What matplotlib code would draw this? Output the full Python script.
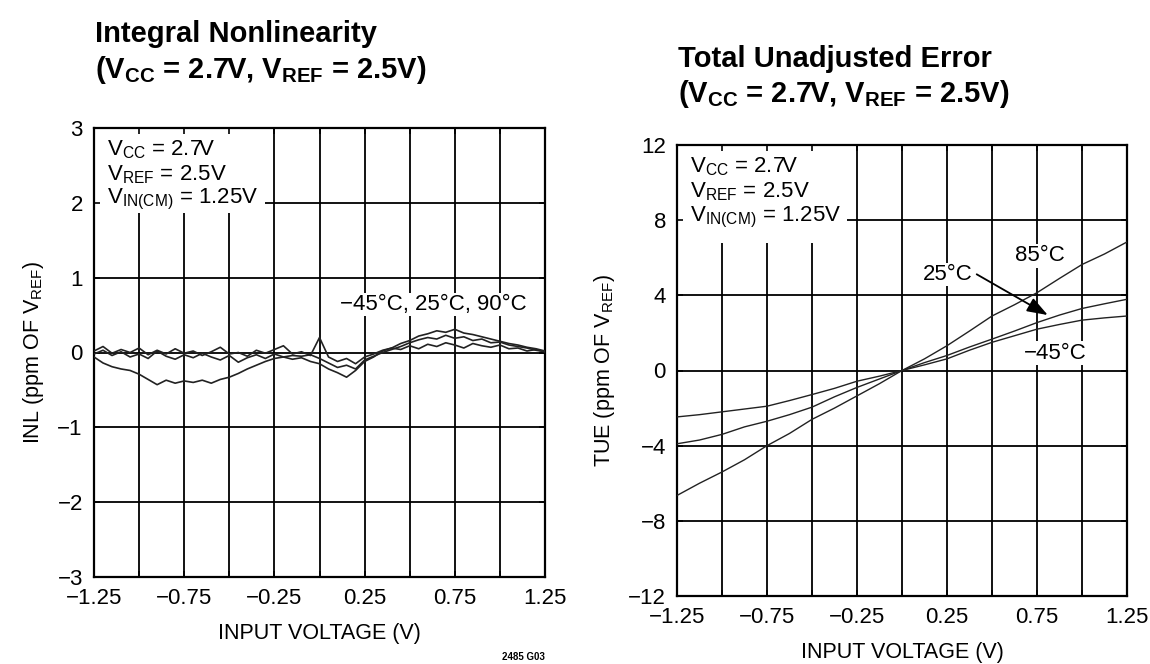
import numpy as np
import matplotlib
matplotlib.use("Agg")
import matplotlib.pyplot as plt
from matplotlib.patches import Rectangle

plt.rcParams["font.family"] = ["Liberation Sans", "DejaVu Sans"]
plt.rcParams["mathtext.default"] = "regular"

# ---- data ----
# INL, three temperatures, 0.05 V steps
vin_inl = np.linspace(-1.25, 1.25, 51)
inl_a = [-0.06, -0.14, -0.19, -0.22, -0.24, -0.29, -0.36, -0.43, -0.37, -0.41,
         -0.38, -0.40, -0.37, -0.41, -0.36, -0.33, -0.28, -0.22, -0.17, -0.12,
         -0.08, -0.06, -0.09, -0.07, -0.12, -0.15, -0.22, -0.27, -0.33, -0.24,
         -0.12, -0.06, 0.02, 0.06, 0.12, 0.16, 0.22, 0.25, 0.29, 0.27,
         0.31, 0.26, 0.24, 0.21, 0.18, 0.15, 0.12, 0.10, 0.07, 0.05, 0.02]
inl_b = [-0.02, 0.03, -0.04, 0.01, -0.06, -0.02, -0.08, 0.02, -0.05, -0.09,
         -0.03, -0.07, -0.01, -0.06, -0.10, -0.04, -0.13, -0.07, -0.03, -0.08,
         -0.02, -0.06, -0.04, -0.05, -0.03, -0.08, -0.14, -0.20, -0.17, -0.22,
         -0.10, -0.05, 0.00, 0.04, 0.08, 0.13, 0.17, 0.20, 0.18, 0.23,
         0.19, 0.21, 0.16, 0.18, 0.13, 0.14, 0.10, 0.08, 0.06, 0.03, 0.01]
inl_c = [0.02, 0.08, -0.01, 0.04, 0.00, 0.06, -0.03, 0.03, -0.02, 0.05,
         -0.01, 0.02, -0.04, 0.01, 0.07, -0.02, 0.00, -0.05, 0.03, -0.01,
         0.04, 0.09, -0.02, 0.01, -0.04, 0.20, -0.06, -0.12, -0.08, -0.15,
         -0.06, -0.02, 0.03, 0.06, 0.04, 0.09, 0.05, 0.11, 0.08, 0.13,
         0.10, 0.06, 0.12, 0.09, 0.07, 0.10, 0.05, 0.06, 0.02, 0.04, 0.01]

# TUE, 0.125 V steps
vin_tue = np.linspace(-1.25, 1.25, 21)
tue_85 = [-6.65, -6.0, -5.4, -4.75, -4.0, -3.35, -2.6, -2.0, -1.35, -0.7, 0.0,
          0.62, 1.32, 2.1, 2.9, 3.5, 4.14, 4.9, 5.64, 6.2, 6.84]
tue_25 = [-3.9, -3.7, -3.4, -3.0, -2.7, -2.35, -1.95, -1.4, -0.9, -0.45, 0.0,
          0.42, 0.8, 1.25, 1.67, 2.1, 2.55, 2.95, 3.3, 3.55, 3.79]
tue_m45 = [-2.47, -2.35, -2.2, -2.05, -1.9, -1.6, -1.28, -0.95, -0.57, -0.3, 0.0,
           0.3, 0.62, 1.08, 1.5, 1.85, 2.2, 2.45, 2.68, 2.8, 2.9]

xticks = [-1.25, -0.75, -0.25, 0.25, 0.75, 1.25]
xtick_labels = ["\u22121.25", "\u22120.75", "\u22120.25", "0.25", "0.75", "1.25"]
inl_yticks = [-3, -2, -1, 0, 1, 2, 3]
tue_yticks = [-12, -8, -4, 0, 4, 8, 12]

W, H = 1150, 664
fig = plt.figure(figsize=(W / 100, H / 100), dpi=100)


def px(x0, y0, x1, y1):
    return [x0 / W, 1 - y1 / H, (x1 - x0) / W, (y1 - y0) / H]


def setup(ax, yticks, ystep, ylabel, box_w, box_h, lines):
    ax.set_xlim(-1.25, 1.25)
    ax.set_ylim(yticks[0], yticks[-1])
    # grid drawn by hand so the text box can sit over it
    ax.vlines(np.arange(-1.0, 1.25, 0.25), yticks[0], yticks[-1], color="black", lw=1.3, zorder=1)
    ax.hlines(np.arange(yticks[0] + ystep, yticks[-1], ystep), -1.25, 1.25, color="black", lw=1.3, zorder=1)
    ax.set_axisbelow(False)
    ax.set_xticks(xticks)
    ax.set_xticklabels(xtick_labels)
    ax.set_xticks(np.arange(-1.0, 1.25, 0.5), minor=True)
    ax.set_yticks(yticks)
    ax.set_yticklabels([str(t).replace("-", "\u2212") for t in yticks])
    ax.tick_params(which="both", direction="in", top=True, right=True, length=4, width=1.2,
                   labelsize=16, pad=8)
    for s in ax.spines.values():
        s.set_linewidth(1.6)
    ax.set_xlabel("INPUT VOLTAGE (V)", fontsize=15.5, labelpad=10)
    ax.set_ylabel(ylabel, fontsize=15.5, labelpad=8)
    ax.add_patch(Rectangle((0, 1 - box_h), box_w, box_h, transform=ax.transAxes,
                           facecolor="white", edgecolor="none", zorder=2))
    for yy, s in zip([0.951, 0.896, 0.840], lines):
        ax.text(0.029, yy, s, transform=ax.transAxes, fontsize=16, va="center", zorder=4)


box_lines = ["V$_{CC}$ = 2.7V", "V$_{REF}$ = 2.5V", "V$_{IN(CM)}$ = 1.25V"]

# ---- left: INL ----
ax1 = fig.add_axes(px(94, 128, 545, 577))
setup(ax1, inl_yticks, 1, "INL (ppm OF V$_{REF}$)", 0.38, 0.19, box_lines)
for tr in (inl_a, inl_b, inl_c):
    ax1.plot(vin_inl, tr, color="#222222", lw=1.2, zorder=3)
ax1.text(0.114, 0.64, "\u221245\u00b0C, 25\u00b0C, 90\u00b0C", fontsize=16, va="center", zorder=2,
         bbox=dict(facecolor="white", edgecolor="none", pad=1))

# ---- right: TUE ----
ax2 = fig.add_axes(px(677, 145, 1127, 596))
setup(ax2, tue_yticks, 4, "TUE (ppm OF V$_{REF}$)", 0.378, 0.217, box_lines)
for tr in (tue_85, tue_25, tue_m45):
    ax2.plot(vin_tue, tr, color="#222222", lw=1.0, zorder=3)
ax2.text(0.767, 6.1, "85\u00b0C", fontsize=16, ha="center", va="center", zorder=2,
         bbox=dict(facecolor="white", edgecolor="none", pad=1))
ax2.text(0.39, 5.1, "25\u00b0C", fontsize=16, ha="right", va="center", zorder=2,
         bbox=dict(facecolor="white", edgecolor="none", pad=1))
ax2.text(0.85, 0.93, "\u221245\u00b0C", fontsize=16, ha="center", va="center", zorder=2,
         bbox=dict(facecolor="white", edgecolor="none", pad=1))
ax2.annotate("", xy=(0.81, 2.95), xytext=(0.415, 5.12), zorder=4,
             arrowprops=dict(arrowstyle="-|>,head_width=0.25,head_length=0.7", color="black",
                             lw=1.3, mutation_scale=18, shrinkA=0, shrinkB=0))

# ---- titles ----
fig.text(95 / W, 1 - 42 / H, "Integral Nonlinearity", fontsize=21, fontweight="bold", va="baseline")
fig.text(95 / W, 1 - 78 / H, "(V$_{CC}$ = 2.7V, V$_{REF}$ = 2.5V)", fontsize=21, fontweight="bold", va="baseline")
fig.text(678 / W, 1 - 67 / H, "Total Unadjusted Error", fontsize=21, fontweight="bold", va="baseline")
fig.text(678 / W, 1 - 102 / H, "(V$_{CC}$ = 2.7V, V$_{REF}$ = 2.5V)", fontsize=21, fontweight="bold", va="baseline")
fig.text(523 / W, 1 - 660 / H, "2485 G03", fontsize=7, fontweight="bold", ha="center", va="baseline")

fig.savefig("out.png", dpi=100)
